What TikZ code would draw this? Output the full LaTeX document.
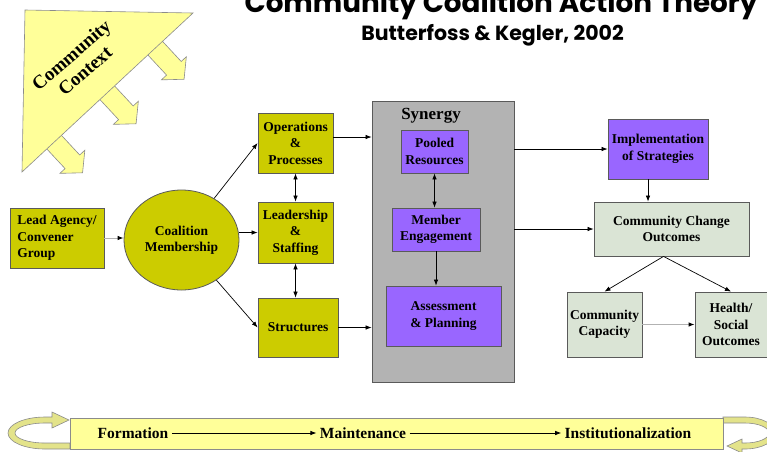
\documentclass[tikz,border=0pt]{standalone}
\usepackage{fontspec}
\setmainfont{Liberation Serif}
\newfontfamily\titlefont{Poppins}
\usetikzlibrary{arrows.meta,shapes.geometric,calc}
\definecolor{olivebox}{HTML}{CCCC00}
\definecolor{violetbox}{HTML}{9966FF}
\definecolor{sagebox}{HTML}{DAE4D5}
\definecolor{synergygray}{HTML}{B3B3B3}
\definecolor{paleyellow}{HTML}{FFFF99}
\definecolor{loopyellow}{HTML}{E3E38A}
\definecolor{edgegray}{HTML}{5A5A5A}

\begin{document}
\begin{tikzpicture}[x=1pt,y=-1pt,
    >={Latex[length=6pt,width=4.5pt]},
    box/.style={draw=edgegray,line width=0.8pt,inner sep=2pt,align=center,
      font=\fontsize{13.5}{16.5}\selectfont\bfseries},
    yellowbox/.style={box,fill=olivebox},
    purplebox/.style={box,fill=violetbox},
    greenbox/.style={box,fill=sagebox},
    conn/.style={->,line width=0.7pt},
    greyconn/.style={-{Latex[length=6pt,width=4.5pt,black]},line width=0.9pt,draw=gray!60},
    band/.style={font=\fontsize{15.5}{18}\selectfont\bfseries},
  ]
  \useasboundingbox (0,0) rectangle (767,451);
  \clip (0,0) rectangle (767,451);

  % title
  \node[anchor=base,font=\titlefont\bfseries\fontsize{27.8}{32}\selectfont] (title) at (501,12) {Community Coalition Action Theory};
  \node[anchor=base,font=\titlefont\bfseries\fontsize{20.5}{24}\selectfont] (subtitle) at (492.5,40) {Butterfoss \& Kegler, 2002};

  % community context
  \foreach \px/\py in {155.5/48.5, 107.5/93, 54/142}{
    \begin{scope}[shift={(\px,\py)},rotate=-47.1]
      \filldraw[fill=paleyellow,draw=edgegray!70,line width=0.6pt]
        (-4,-10) -- (27,-10) -- (27,-17) -- (42,0) -- (27,17) -- (27,10) -- (-4,10) -- cycle;
    \end{scope}
  }
  \filldraw[fill=paleyellow,draw=edgegray!70,line width=0.6pt] (25,10) -- (193,13) -- (22,172) -- cycle;
  \node[rotate=41,align=center,font=\fontsize{19}{21}\selectfont\bfseries] (context) at (78,63) {Community\\Context};

  % boxes
  \node[yellowbox,minimum width=94pt,minimum height=60pt,align=left] (lead) at (57,238) {Lead Agency/\\Convener\\Group};
  \node[yellowbox,ellipse,minimum width=115pt,minimum height=100pt] (coal) at (181.5,240) {Coalition\\Membership};
  \node[yellowbox,minimum width=75pt,minimum height=60pt] (ops) at (295.5,143) {Operations\\\&\\Processes};
  \node[yellowbox,minimum width=75pt,minimum height=61pt] (ldr) at (295.5,232.5) {Leadership\\\&\\Staffing};
  \node[yellowbox,minimum width=80pt,minimum height=59pt] (struct) at (298,327.5) {Structures};
  \node[box,fill=synergygray,minimum width=142pt,minimum height=281pt] (syn) at (443,241.5) {};
  \node[font=\fontsize{17}{20}\selectfont\bfseries] (synlbl) at (431,116) {Synergy};
  \node[purplebox,minimum width=67pt,minimum height=43pt] (pool) at (434.5,151.5) {Pooled\\Resources};
  \node[purplebox,minimum width=88pt,minimum height=43pt] (memb) at (436,229.5) {Member\\Engagement};
  \node[purplebox,minimum width=115pt,minimum height=60pt] (assess) at (443.5,316) {Assessment\\\& Planning};
  \node[purplebox,minimum width=100pt,minimum height=60pt] (impl) at (658,149) {Implementation\\of Strategies};
  \node[greenbox,minimum width=155pt,minimum height=54pt] (ccho) at (671.5,229) {Community Change\\Outcomes};
  \node[greenbox,minimum width=75pt,minimum height=65pt] (cap) at (604.5,324.5) {Community\\Capacity};
  \node[greenbox,minimum width=72pt,minimum height=65pt] (health) at (731,324.5) {Health/\\Social\\Outcomes};

  % connectors
  \draw[greyconn] (lead.east) -- (lead.east -| coal.west);
  \draw[conn] (coal) -- (ops.west);
  \draw[conn] (ldr.west -| coal.east) -- (ldr.west);
  \draw[conn] (coal) -- (struct.west);
  \draw[conn,<->] (ops) -- (ldr);
  \draw[conn,<->] (ldr.south) -- (ldr.south |- struct.north);
  \coordinate (opsout) at ([yshift=6pt]ops.east);
  \draw[conn] (opsout) -- (opsout -| syn.west);
  \draw[conn] (struct.east) -- (struct.east -| syn.west);
  \draw[conn,<->] (pool.south) -- (pool.south |- memb.north);
  \draw[conn] (memb.south) -- (memb.south |- assess.north);
  \draw[conn] (syn.east |- impl.west) -- (impl.west);
  \draw[conn] (syn.east |- ccho.west) -- (ccho.west);
  \coordinate (implout) at ([xshift=-10pt]impl.south);
  \draw[conn] (implout) -- (implout |- ccho.north);
  \coordinate (split) at ([xshift=-8pt]ccho.south);
  \draw[conn] (split) -- (cap.north);
  \draw[conn] (split) -- (health.north);
  \draw[greyconn] (cap) -- (health);

  % stages band
  \filldraw[fill=loopyellow,draw=edgegray!70,line width=0.6pt] (70,449) -- (45,449)
    arc[start angle=90,end angle=270,x radius=37,y radius=16] -- (52,417) -- (52,412) -- (69,420)
    -- (52,428) -- (52,423) -- (45,423) arc[start angle=270,end angle=90,x radius=30,y radius=10]
    -- (70,443) -- cycle;
  \filldraw[fill=loopyellow,draw=edgegray!70,line width=0.6pt] (723,417) -- (745,417)
    arc[start angle=270,end angle=450,x radius=30,y radius=16] -- (742,449) -- (742,453) -- (727,446)
    -- (742,439) -- (742,443) -- (745,443) arc[start angle=90,end angle=-90,x radius=24,y radius=10]
    -- (723,423) -- cycle;
  \filldraw[fill=paleyellow,draw=edgegray!70,line width=0.6pt] (70,418) rectangle (723,449);
  \node[band] (form) at (133,433) {Formation};
  \node[band] (maint) at (363,433) {Maintenance};
  \node[band] (inst) at (628,433) {Institutionalization};
  \draw[conn] (form) -- (maint);
  \draw[conn] (maint) -- (inst);
\end{tikzpicture}
\end{document}
